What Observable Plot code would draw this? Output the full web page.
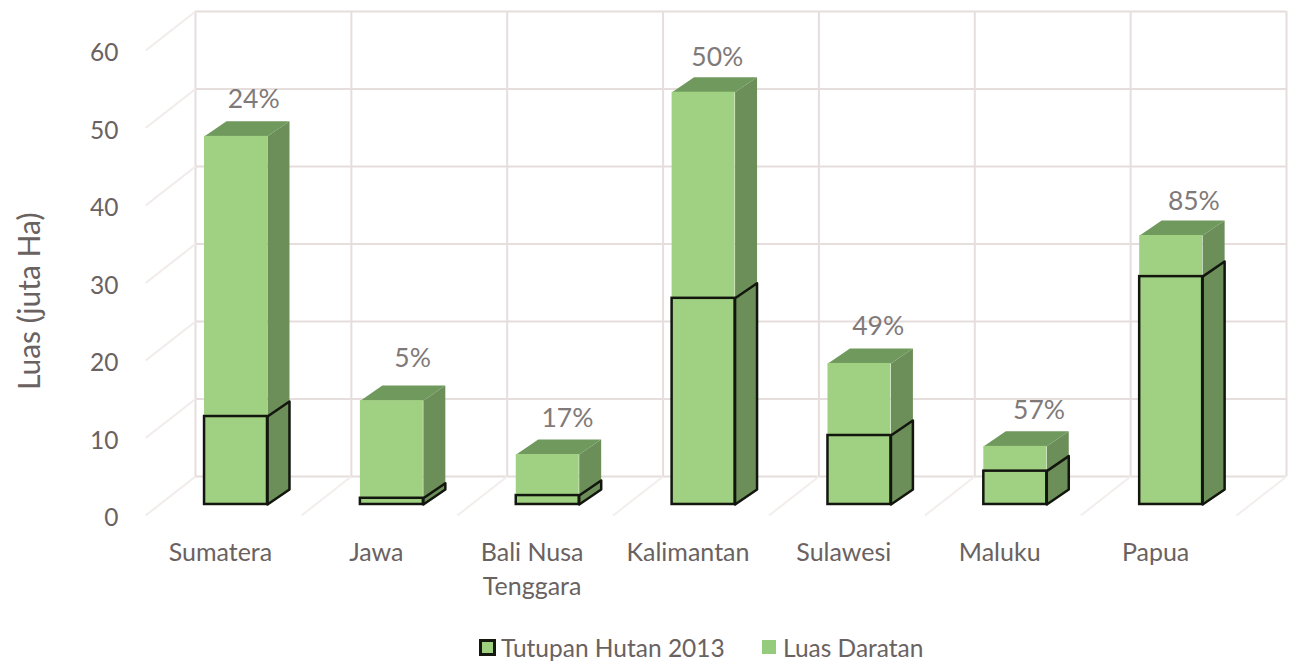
<!DOCTYPE html>
<html>
<head>
<meta charset="utf-8">
<script src="https://cdn.jsdelivr.net/npm/d3@7"></script>
<script src="https://cdn.jsdelivr.net/npm/@observablehq/plot@0.6"></script>
<style>
html,body{margin:0;padding:0;background:#fff;overflow:hidden}
#legend{position:relative;height:37px;font:24.5px Lato,sans-serif;color:#6a6261}
#legend span{position:absolute;top:10px;line-height:26px;white-space:nowrap}
#legend i{position:absolute;display:block;box-sizing:border-box}
</style>
</head>
<body>
<div id="chart"></div>
<div id="legend">
  <i style="left:479px;top:14px;width:17px;height:17px;background:#9fd080;border:3px solid #14180f"></i>
  <span style="left:501px">Tutupan Hutan 2013</span>
  <i style="left:762px;top:15px;width:14px;height:14px;background:#95cb7c"></i>
  <span style="left:783px">Luas Daratan</span>
</div>
<script>
const categories = ["Sumatera","Jawa","Bali Nusa\nTenggara","Kalimantan","Sulawesi","Maluku","Papua"];
const luasDaratan = [47.5,13.4,6.45,53.2,18.2,7.5,34.7];
const tutupanHutan = [11.35,0.8,1.15,26.6,8.9,4.3,29.4];
const percentLabels = ["24%","5%","17%","50%","49%","57%","85%"];
const yTicks = [0,10,20,30,40,50,60];
const xLines = [0,1,2,3,4,5,6,7];

// Projection of the 3D bar, in scale units
const barLeft = 0.058, barWidth = 0.404, depthX = 0.141, depthY = 1.94, floorY = -3.61;
const wallX = -0.32, wallY = -5.03;

const x0 = i => i + barLeft, x1 = i => i + barLeft + barWidth;
const sidePoly = (name, i, v) => [
  [x1(i), floorY], [x1(i) + depthX, floorY + depthY],
  [x1(i) + depthX, floorY + depthY + v], [x1(i), floorY + v]
].map(([x, y]) => ({id: name + i, x, y}));
const topPoly = (i, v) => [
  [x0(i), floorY + v], [x1(i), floorY + v],
  [x1(i) + depthX, floorY + depthY + v], [x0(i) + depthX, floorY + depthY + v]
].map(([x, y]) => ({id: "t" + i, x, y}));

const outerSide = luasDaratan.flatMap((v, i) => sidePoly("o", i, v));
const outerTop = luasDaratan.flatMap((v, i) => topPoly(i, v));
const innerSide = tutupanHutan.flatMap((v, i) => sidePoly("i", i, v));
const idx = categories.map((_, i) => i);

const front = "#a0d082", side = "#6c8e58", topC = "#70995d", grid = "#e6dedc", ink = "#6a6261";
const labelDx = [-1, 2, 1, -5, 0, 5, 4], labelDy = [0, -5, 1, 2, 0, 1, 3];

const plot = Plot.plot({
  width: 1290, height: 625,
  marginLeft: 195, marginRight: 4, marginTop: 11, marginBottom: 149,
  x: {domain: [0, 7], axis: null},
  y: {domain: [0, 60], label: null},
  style: {fontFamily: "Lato, sans-serif", background: "#fff", color: ink, overflow: "visible"},
  marks: [
    Plot.ruleY(yTicks, {x1: 0, x2: 7, stroke: grid, strokeWidth: 2}),
    Plot.ruleX(xLines, {y1: 0, y2: 60, stroke: grid, strokeWidth: 2}),
    Plot.link(yTicks, {x1: 0, y1: d => d, x2: wallX, y2: d => d + wallY, stroke: "#f1ecea", strokeWidth: 2}),
    Plot.link(xLines.slice(1), {x1: d => d, y1: 0, x2: d => d + wallX, y2: wallY, stroke: "#f3eeec", strokeWidth: 2}),
    Plot.axisY(yTicks, {anchor: "left", tickSize: 0, tickPadding: 77, dy: 42, fontSize: 24.5, fill: ink, label: null}),
    Plot.text(["Luas (juta Ha)"], {frameAnchor: "left", dx: -165, y: 22.6, rotate: -90, fontSize: 30, fill: ink, textAnchor: "middle"}),
    Plot.line(outerSide, {x: "x", y: "y", z: "id", fill: side, stroke: "none", curve: "linear-closed"}),
    Plot.line(outerTop, {x: "x", y: "y", z: "id", fill: topC, stroke: "none", curve: "linear-closed"}),
    Plot.rect(idx, {x1: x0, x2: x1, y1: floorY, y2: i => floorY + luasDaratan[i], fill: front}),
    Plot.line(innerSide, {x: "x", y: "y", z: "id", fill: side, stroke: "#12160e", strokeWidth: 2.5, curve: "linear-closed"}),
    Plot.rect(idx, {x1: x0, x2: x1, y1: floorY, y2: i => floorY + tutupanHutan[i], fill: front, stroke: "#12160e", strokeWidth: 2.5}),
    ...idx.map(i => Plot.text([i], {x: i + 0.38, y: floorY + depthY + luasDaratan[i], dx: labelDx[i], dy: -22 + labelDy[i], text: () => percentLabels[i], fontSize: 26.5, fill: "#7f7a79"})),
    Plot.text(idx, {x: i => i + 0.16, y: -8.4, dy: -5, text: i => categories[i], fontSize: 25, fill: ink, lineAnchor: "top", lineHeight: 1.36})
  ]
});
document.getElementById("chart").append(plot);
</script>
</body>
</html>
